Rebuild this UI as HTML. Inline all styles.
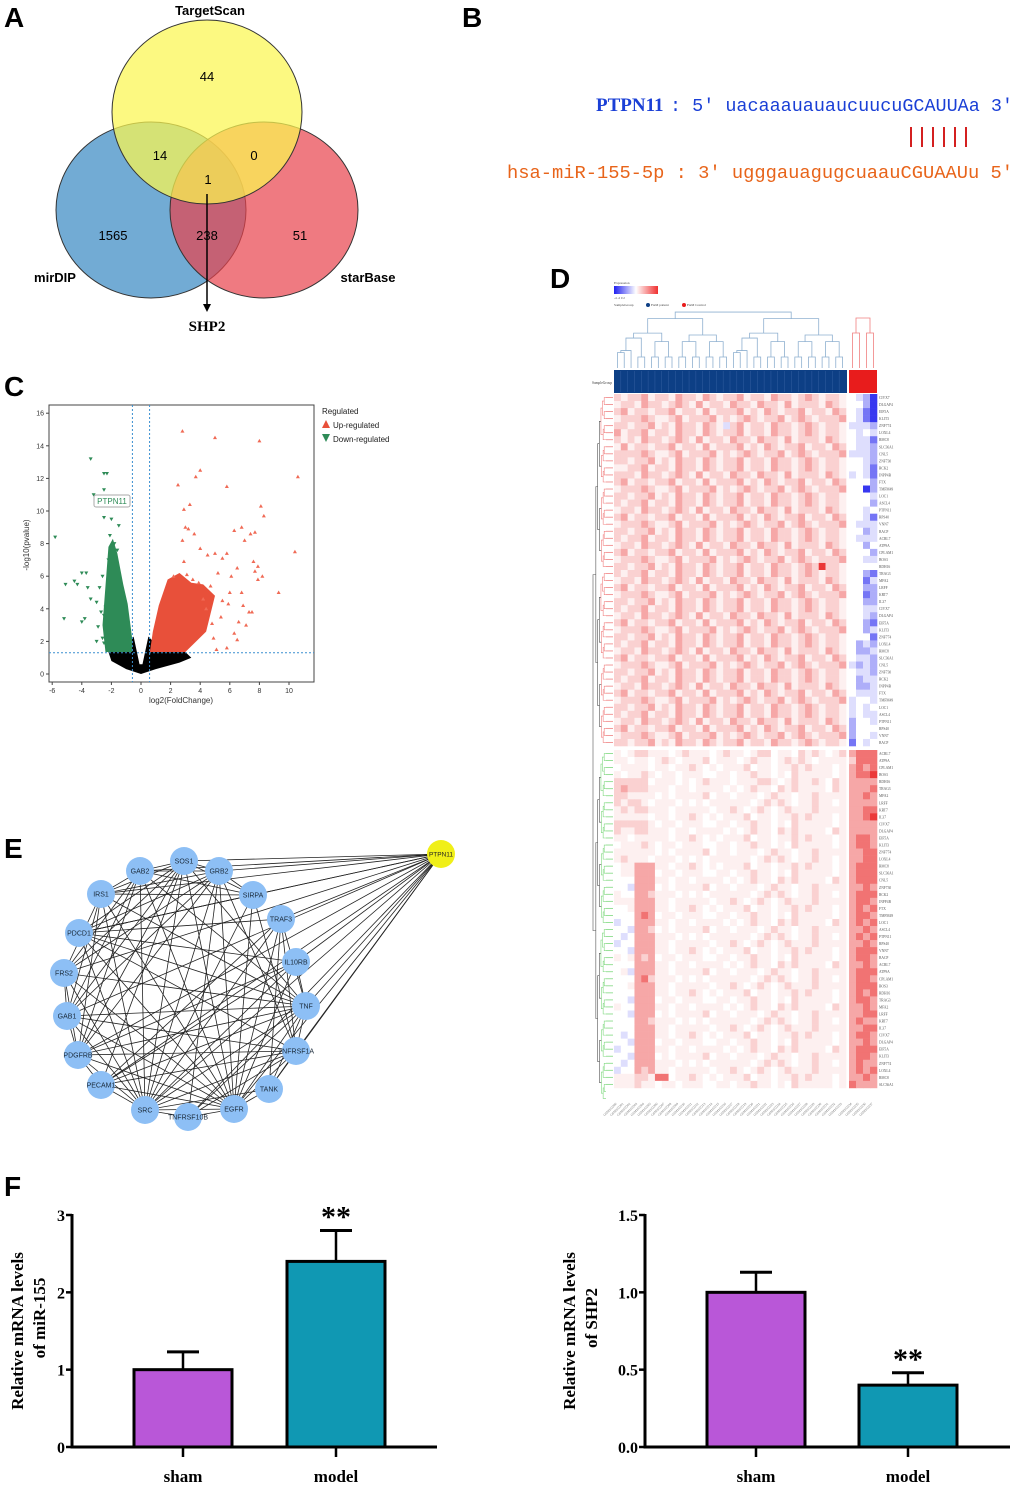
<!DOCTYPE html>
<html><head><meta charset="utf-8">
<style>
html,body{margin:0;padding:0;background:#fff}
svg{display:block}
.pl{font-family:"Liberation Sans",sans-serif;font-weight:bold;font-size:28px;fill:#000}
</style></head>
<body>
<svg id="fig" width="1020" height="1489" viewBox="0 0 1020 1489" xmlns="http://www.w3.org/2000/svg">
<text class="pl" x="4" y="27">A</text>
<text class="pl" x="462" y="27">B</text>
<text class="pl" x="4" y="396">C</text>
<text class="pl" x="550" y="288">D</text>
<text class="pl" x="4" y="858">E</text>
<text class="pl" x="4" y="1196">F</text>

<g font-family="Liberation Sans, sans-serif" font-size="13">
  <ellipse cx="151" cy="210" rx="95" ry="88" fill="#3c8ac4" fill-opacity="0.72" stroke="#333"/>
  <ellipse cx="264" cy="210" rx="94" ry="88" fill="#e8424c" fill-opacity="0.7" stroke="#333"/>
  <ellipse cx="207" cy="112" rx="95" ry="92" fill="#fbf650" fill-opacity="0.72" stroke="#333"/>
  <text x="210" y="15" text-anchor="middle" font-weight="bold">TargetScan</text>
  <text x="55" y="282" text-anchor="middle" font-weight="bold">mirDIP</text>
  <text x="368" y="282" text-anchor="middle" font-weight="bold">starBase</text>
  <text x="207" y="81" text-anchor="middle">44</text>
  <text x="160" y="160" text-anchor="middle">14</text>
  <text x="254" y="160" text-anchor="middle">0</text>
  <text x="208" y="184" text-anchor="middle">1</text>
  <text x="113" y="240" text-anchor="middle">1565</text>
  <text x="207" y="240" text-anchor="middle">238</text>
  <text x="300" y="240" text-anchor="middle">51</text>
  <line x1="207" y1="194" x2="207" y2="306" stroke="#000" stroke-width="1.5"/>
  <polygon points="203,304 211,304 207,312" fill="#000"/>
  <text x="207" y="331" text-anchor="middle" font-family="Liberation Serif, serif" font-weight="bold" font-size="15">SHP2</text>
</g>

<g>
  <text x="596" y="111" font-family="Liberation Serif, serif" font-weight="bold" font-size="19" fill="#1a3fd6">PTPN11</text>
  <text x="670" y="111" font-family="Liberation Mono, monospace" font-size="18.3" fill="#1a3fd6" xml:space="preserve" textLength="343" lengthAdjust="spacingAndGlyphs">: 5' uacaaauauaucuucuGCAUUAa 3'</text>
  <g stroke="#d42020" stroke-width="2">
    <line x1="911" y1="127" x2="911" y2="147"/><line x1="922" y1="127" x2="922" y2="147"/><line x1="933" y1="127" x2="933" y2="147"/>
    <line x1="944" y1="127" x2="944" y2="147"/><line x1="955" y1="127" x2="955" y2="147"/><line x1="966" y1="127" x2="966" y2="147"/>
  </g>
  <text x="507" y="178" font-family="Liberation Mono, monospace" font-size="18.3" fill="#e8641a" xml:space="preserve" textLength="506" lengthAdjust="spacingAndGlyphs">hsa-miR-155-5p : 3' ugggauagugcuaauCGUAAUu 5'</text>
</g>

<g id="volcano" font-family="Liberation Sans, sans-serif"></g>
<g id="heatmap" font-family="Liberation Serif, serif"></g>
<g id="network" font-family="Liberation Sans, sans-serif"></g>
<g id="bars" font-family="Liberation Serif, serif"></g>
</svg>

<script>
const NS="http://www.w3.org/2000/svg";
function mk(parent,tag,attrs,txt){const e=document.createElementNS(NS,tag);for(const k in attrs)e.setAttribute(k,attrs[k]);if(txt!==undefined)e.textContent=txt;parent.appendChild(e);return e;}

const volXTicks=[-6,-4,-2,0,2,4,6,8,10];
const volYTicks=[0,2,4,6,8,10,12,14,16];
const upX=[2.8,5,8,4,3.7,10.6,2.5,5.8,3.3,2.9,8.1,8.3,3,3.2,3.6,6.8,6.3,7.7,7.4,2.8,7,4,10.4,5,5.8,4.5,2.9,5.5,7.6,7.9,6.5,7.7,8.2,7.9,9.3,6,6.8,5.5,7.5,7.3,6.6,5.4,6.3,5.1,5.8,6.5,4.9,4.4,3.5,4.2,5.2,6.1,4.7,3.9,6.9,7.1,5.9,4.8,3.1,2.2];
const upY=[14.9,14.5,14.3,12.5,12.1,12.1,11.6,11.5,10.4,10.1,10.3,9.7,9,8.9,8.6,9,8.8,8.7,8.6,8.2,8.2,7.7,7.5,7.4,7.4,7.3,6.9,7.1,6.9,6.6,6.5,6.3,6,5.8,5,5,5,4.5,3.8,3.8,3.2,3.5,2.5,1.5,1.6,2.1,2.2,4,5.8,4.6,6.2,6.0,5.4,5.6,4.2,3.0,4.3,3.1,6.1,6.0];
const downX=[-3.4,-2.5,-2.3,-2.5,-3.2,-5.8,-2.5,-2,-1.5,-2.1,-4,-3.7,-4.5,-5.1,-4.3,-3.6,-2.6,-2.8,-3.4,-3,-5.2,-3.8,-4,-2.5,-2.9,-2.2,-2.6,-3,-2.5,-1.8,-1.6,-2.2,-1.9,-2.4,-2.7];
const downY=[13.2,12.3,12.3,11.3,11,8.4,9.6,9.5,9.1,8.5,6.2,6.2,5.7,5.5,5.5,5.3,6,5.3,4.6,4.4,3.4,3.4,3.2,3.6,2.9,2.5,2.2,2,1.9,8.0,7.6,7.0,6.8,4.1,3.8];
const downHullX=[-2.2,-1.9,-1.6,-1.2,-0.9,-0.6,-0.6,-2.4,-2.6];
const downHullY=[7.8,8.3,7.4,5.5,4.3,2.2,1.35,1.35,3.0];
const upHullX=[0.6,0.8,1.2,1.8,2.6,3.4,4.2,5.0,4.4,3.0,0.6];
const upHullY=[1.35,2.6,4.2,5.8,6.2,5.6,5.5,4.8,2.6,1.35,1.35];
const nsHullX=[-2.2,-1.2,-0.5,-0.1,0.1,0.5,1.5,3.0,3.4,2.6,1.0,0,-1.0,-2.0];
const nsHullY=[1.35,1.35,2.3,0.6,0.6,2.3,1.35,1.35,1.0,0.7,0.3,0,0.3,0.8];

(function(){
const g=document.getElementById('volcano');
const X0=49,X1=314,Y0=405,Y1=682;
const sx=v=>141+v*14.8, sy=v=>674-v*16.3;
mk(g,'rect',{x:X0,y:Y0,width:X1-X0,height:Y1-Y0,fill:'#fff',stroke:'#444','stroke-width':1,});
const poly=(xs,ys,fill,name)=>{const p=mk(g,'polygon',{points:xs.map((x,i)=>sx(x)+','+sy(ys[i])).join(' '),fill:fill});

};
poly(nsHullX,nsHullY,'#000','non-significant-cloud');
poly(downHullX,downHullY,'#2e8b57','down-regulated-cloud');
poly(upHullX,upHullY,'#e8503a','up-regulated-cloud');
upX.forEach((x,i)=>{const cx=sx(x),cy=sy(upY[i]);const p=mk(g,'polygon',{points:`${cx-2},${cy+1.5} ${cx+2},${cy+1.5} ${cx},${cy-2}`,fill:'#f06a55'});

});
downX.forEach((x,i)=>{const cx=sx(x),cy=sy(downY[i]);const p=mk(g,'polygon',{points:`${cx-2},${cy-1.5} ${cx+2},${cy-1.5} ${cx},${cy+2}`,fill:'#2e8b57'});

});
[[sx(-0.58),Y0,sx(-0.58),Y1],[sx(0.58),Y0,sx(0.58),Y1],[X0,sy(1.3),X1,sy(1.3)]].forEach(l=>{const e=mk(g,'line',{x1:l[0],y1:l[1],x2:l[2],y2:l[3],stroke:'#3a8fd0','stroke-width':1,'stroke-dasharray':'2,2'});

});
volXTicks.forEach(t=>{mk(g,'line',{x1:sx(t),y1:Y1,x2:sx(t),y2:Y1+3,stroke:'#444'});const e=mk(g,'text',{x:sx(t),y:Y1+11,'font-size':7,'text-anchor':'middle',fill:'#333'},String(t));

});
volYTicks.forEach(t=>{mk(g,'line',{x1:X0-3,y1:sy(t),x2:X0,y2:sy(t),stroke:'#444'});const e=mk(g,'text',{x:X0-5,y:sy(t)+2.5,'font-size':7,'text-anchor':'end',fill:'#333'},String(t));

});
const xt=mk(g,'text',{x:181,y:703,'font-size':8,'text-anchor':'middle',fill:'#333'},'log2(FoldChange)');


const yt=mk(g,'text',{x:0,y:0,'font-size':8,'text-anchor':'middle',fill:'#333',transform:'translate(29,545) rotate(-90)'},'-log10(pvalue)');


const lb=mk(g,'rect',{x:94,y:495,width:36,height:12,fill:'#fff',stroke:'#aaa',rx:2});


const lt=mk(g,'text',{x:112,y:504,'font-size':8,'text-anchor':'middle',fill:'#2e8b57'},'PTPN11');


const lg=mk(g,'g',{});


mk(lg,'text',{x:322,y:414,'font-size':8,fill:'#222'},'Regulated');
mk(lg,'polygon',{points:'322,428 330,428 326,420',fill:'#e8503a'});
mk(lg,'text',{x:333,y:428,'font-size':8,fill:'#222'},'Up-regulated');
mk(lg,'polygon',{points:'322,434 330,434 326,442',fill:'#2e8b57'});
mk(lg,'text',{x:333,y:442,'font-size':8,fill:'#222'},'Down-regulated');
})();

const heatRows=[
"6566756657665765667566576656765665|4320","5665766567657566576657665756665765|4420","6756656675665756667565765667566576|4310","5666765567566675656765667567656667|4310",
"6656675657665765367566576656765665|3332","7566756657665765667566576656765665|4343","6565766567657566576657665756665765|4331","5756656675665756667565765667566576|4332",
"6666765567566675656765667567656667|3332","6656675657665765667566576656765665|4432","5566756657665765667566576656765665|4431","6665766567657566576657665756665765|3431",
"6756656675665756667565765667566576|4442","5666765567566675656765667567656667|4402","6656675657665765667566576656765665|4443","6566756657665765667566576656765665|4442",
"5665766567657566576657665756665765|4434","6756656675665756667565765667566576|4431","5666765567566675656765667567656667|4333","6656675657665765667566576656765665|4423",
"6566756657665765667566576656765665|4333","5665766567657566576657665756665765|4424","6756656675665756667565765667566576|4442","5666765567566675656765667567656667|4433",
"6656675657665765667566576656769665|4444","6566756657665765667566576656765665|4421","5665766567657566576657665756665765|4413","6756656675665756667565765667566576|4422",
"5666765567566675656765667567656667|4412","6656675657665765667566576656765665|4422","6566756657665765667566576656765665|4433","5665766567657566576657665756665765|4432",
"6756656675665756667565765667566576|4421","5666765567566675656765667567656667|4423","6656675657665765667566576656765665|4441","6566756657665765667566576656765665|4232",
"5665766567657566576657665756665765|4223","6756656675665756667565765667566576|4332","5666765567566675656765667567656667|3232","6656675657665765667566576656765665|4332",
"6566756657665765667566576656765665|4233","5665766567657566576657665756665765|4223","6756656675665756667565765667566576|4333","5666765567566675656765667567656667|3443",
"6656675657665765667566576656765665|3434","6566756657665765667566576656765665|3433","5665766567657566576657665756665765|2443","6756656675665756667565765667566576|2444",
"5666765567566675656765667567656667|2443","6656675657665765667566576656765665|1434",
"5456655545655545655456645546565456|7888","5545545654555645554565545656545555|6888","4555545545565454555645545565655545|7878","5455654554555445545565545465555545|7889",
"6666645554545655545556654565565465|7777","6766655545545555454565546565555465|7778","6655554545555645545554565545565555|7787","6566545554545455555545656545565545|7777",
"5656655545555545565456545655565555|7788","5555545545565454555645545565655545|7789","6666654554555445545565545465555545|7777","6556655545545555454565546565555465|7777",
"5545555545565454555645545565655545|7887","4555654554555445545565545465555545|7887","5555554545555645545554565545565555|7788","5655545554545455555545656545565545|7788",
"4557775545565454555645545565655545|7888","4557774554555445545565545465555545|7888","4447775545545555454565546565555465|7888","4437774545555645545554565545565555|7787",
"5447765554545455555545656545565545|7888","5557775545555545565456545655565555|7887","4457775545565454555645545565655545|7878","4447874554555445545565545465555545|7887",
"3447775545545555454565546565555465|7878","4437764545555645545554565545565555|7787","4347775554545455555545656545565545|7878","3447775545555545565456545655565555|7787",
"4437775545565454555645545565655545|7888","5457674554555445545565545465555545|7887","4447775545545555454565546565555465|7787","4537775545555645545554565545565555|7888",
"4447865554545455555545656545565545|7887","4457775545555545565456545655565555|7888","4447775545565454555645545565655545|7878","4437774554555445545565545465555545|7887",
"5447775545545555454565546565555465|7787","4437774545555645545554565545565555|7788","4447765554545455555545656545565545|7877","4447775545555545565456545655565555|7788",
"4347775545565454555645545565655545|7887","4437774554555445545565545465555545|7787","3447775545545555454565546565555465|7888","4437774545555645545554565545565555|7887",
"4347775554545455555545656545565545|7877","3447675545555545565456545655565555|7878","5556658845565454555645545565655545|7787","5556554554555445545565545465555545|8777"];
const geneNames=["CIVX7","DLGAP4","EIF5A","KLIT3","ZNF774","LOXL4","RMC8","SLC36A1","CNL5","ZNF730","RCK2","INPP4B","FTX","TMFM49","LOC1","ASCL4","PTPN11","RPS40","VNN7","BACP","ACRL7","ATP9A","CPLAM1","BOS3","RDH16","TRAG3","MFA2","LRFF","KRT7","IL37"];

(function(){
const g=document.getElementById('heatmap');
const PX0=614,PW=232/34,CX0=849,CW=7;
const topY0=394,botY0=750,RH=7.04;
function col(v){let r,gg,b;
 if(v<=4){const f=Math.pow((4-v)/4,1.3);r=Math.round(255-200*f);gg=Math.round(255-200*f);b=Math.round(255-15*f);}
 else{const f=Math.pow((v-4)/5,1.6);r=Math.round(255-20*f);gg=Math.round(255-200*f);b=Math.round(255-200*f);}
 return `rgb(${r},${gg},${b})`;}
heatRows.forEach((row,ri)=>{const [p,c]=row.split('|');const y=(ri<50?topY0+ri*RH:botY0+(ri-50)*RH);
 for(let j=0;j<p.length;j++){const e=mk(g,'rect',{x:(PX0+j*PW).toFixed(2),y:y.toFixed(2),width:(PW+0.3).toFixed(2),height:(RH+0.3).toFixed(2),fill:col(+p[j])});
 
 }
 for(let j=0;j<c.length;j++){const e=mk(g,'rect',{x:CX0+j*CW,y:y.toFixed(2),width:CW+0.3,height:(RH+0.3).toFixed(2),fill:col(+c[j])});
 
 }
 const gl=mk(g,'text',{x:879,y:(y+5).toFixed(1),'font-size':3.6,fill:'#555'},geneNames[ri%geneNames.length]);
 
 
 const lf=mk(g,'line',{x1:606,y1:y+3.5,x2:613,y2:y+3.5,stroke:ri<50?'#f08080':'#7fd87f','stroke-width':0.8});
 
 
});
const sg=mk(g,'rect',{x:614,y:370,width:233,height:23,fill:'#0d3f85'});


for(let j=1;j<34;j++)mk(g,'line',{x1:PX0+j*PW,y1:371,x2:PX0+j*PW,y2:392,stroke:'#3c67a8','stroke-width':0.4});
const sc=mk(g,'rect',{x:849,y:370,width:28,height:23,fill:'#e81c1c'});


const sgl=mk(g,'text',{x:612,y:384,'font-size':3.6,'text-anchor':'end',fill:'#444'},'SampleGroup');


function tree(x0,n,w,yb,ht,color,depth){
 if(n<=1){return [x0+w/2,yb];}
 const n1=Math.ceil(n/2);const a=tree(x0,n1,w,yb,ht,color,depth+1);const b=tree(x0+n1*w,n-n1,w,yb,ht,color,depth+1);
 const y=yb-ht*(Math.log2(n)+ (depth%2?0.4:0));
 mk(g,'path',{d:`M${a[0]},${a[1]}V${y}H${b[0]}V${b[1]}`,fill:'none',stroke:color,'stroke-width':0.8});
 return [(a[0]+b[0])/2,y];}
tree(PX0,34,PW,368,11,'#8fb0d0',0);
tree(CX0,4,CW,368,25,'#f08080',0);
function ltree(y0,n,h,xb,wd,color,depth){
 if(n<=1)return [xb,y0+h/2];
 const n1=Math.ceil(n/2);const a=ltree(y0,n1,h,xb,wd,color,depth+1);const b=ltree(y0+n1*h,n-n1,h,xb,wd,color,depth+1);
 const x=xb-wd*Math.log2(n);
 mk(g,'path',{d:`M${a[0]},${a[1]}H${x}V${b[1]}H${b[0]}`,fill:'none',stroke:depth<3?'#555':color,'stroke-width':0.6});
 return [x,(a[1]+b[1])/2];}
const a1=ltree(topY0,50,RH,606,1.8,'#f08080',0);const a2=ltree(botY0,50,RH,606,1.8,'#7fd87f',0);
mk(g,'path',{d:`M${a1[0]},${a1[1]}H593V${a2[1]}H${a2[0]}`,fill:'none',stroke:'#555','stroke-width':0.6});
const lgd=mk(g,'g',{});


const grad=mk(g,'defs',{});const lgr=mk(grad,'linearGradient',{id:'hg'});
mk(lgr,'stop',{offset:'0','stop-color':'#2020f0'});mk(lgr,'stop',{offset:'0.5','stop-color':'#fff'});mk(lgr,'stop',{offset:'1','stop-color':'#f03030'});
mk(lgd,'text',{x:614,y:284,'font-size':3.5,fill:'#444'},'Expression');
mk(lgd,'rect',{x:614,y:286,width:44,height:8,fill:'url(#hg)'});
mk(lgd,'text',{x:614,y:299,'font-size':3.2,fill:'#444'},'-4   -2   0   2');
mk(lgd,'text',{x:614,y:306,'font-size':3.5,fill:'#444'},'SampleGroup');
mk(lgd,'circle',{cx:648,cy:305,r:2,fill:'#0d3f85'});
mk(lgd,'text',{x:651,y:306,'font-size':3.5,fill:'#444'},'FAM patient');
mk(lgd,'circle',{cx:684,cy:305,r:2,fill:'#e81c1c'});
mk(lgd,'text',{x:687,y:306,'font-size':3.5,fill:'#444'},'FAM Control');
for(let j=0;j<38;j++){const x=j<34?PX0+j*PW+3:CX0+(j-34)*CW+3;
 const t=mk(g,'text',{x:0,y:0,'font-size':3.4,fill:'#777','text-anchor':'end',transform:`translate(${x},1104) rotate(-45)`},'GSM10'+(2200+j));
 
 }
})();

const nodeNames=["SOS1","GAB2","GRB2","IRS1","SIRPA","TRAF3","PDCD1","IL10RB","FRS2","TNF","GAB1","TNFRSF1A","PDGFRB","TANK","PECAM1","EGFR","SRC","TNFRSF10B"];
const nodeX=[184,140,219,101,253,281,79,296,64,306,67,296,78,269,101,234,145,188];
const nodeY=[861,871,871,894,895,919,933,962,973,1006,1016,1051,1055,1089,1085,1109,1110,1117];
const edgeA=[0,0,0,0,0,0,0,0,0,0,0,0,1,1,1,1,1,1,1,1,1,2,2,2,2,2,2,2,2,2,2,3,3,3,3,3,3,3,4,4,4,4,5,5,5,5,5,5,6,6,6,6,6,6,7,7,7,7,7,8,8,8,8,8,9,9,9,9,9,9,9,9,10,10,10,10,11,11,11,11,11,11,12,12,12,13,13,14,14,15,15,16,6];
const edgeB=[1,2,3,4,6,8,10,12,15,16,14,9,2,3,4,8,10,12,16,15,9,3,4,6,8,10,12,15,16,17,11,4,8,10,12,16,15,9,6,16,15,11,9,11,16,15,13,14,9,11,16,15,7,5,9,14,16,15,12,10,12,16,15,9,10,11,12,14,16,15,17,13,12,16,15,11,12,14,16,15,13,17,14,16,15,15,16,16,15,16,17,17,4];
(function(){
const g=document.getElementById('network');
const px=441,py=854;
nodeNames.forEach((n,i)=>{const e=mk(g,'line',{x1:px,y1:py,x2:nodeX[i],y2:nodeY[i],stroke:'#222','stroke-width':0.8});

});
edgeA.forEach((a,i)=>{const b=edgeB[i];const e=mk(g,'line',{x1:nodeX[a],y1:nodeY[a],x2:nodeX[b],y2:nodeY[b],stroke:'#222','stroke-width':0.8});

});
nodeNames.forEach((n,i)=>{const c=mk(g,'circle',{cx:nodeX[i],cy:nodeY[i],r:14,fill:'#8dbff5'});


const t=mk(g,'text',{x:nodeX[i],y:nodeY[i]+2.5,'font-size':7,'text-anchor':'middle',fill:'#1a2a3a'},n);

});
const c=mk(g,'circle',{cx:px,cy:py,r:14,fill:'#f0ef18'});


const t=mk(g,'text',{x:px,y:py+2.5,'font-size':6.5,'text-anchor':'middle',fill:'#222'},'PTPN11');


})();

const barCats=["sham","model"];
const mirVals=[1.0,2.4];
const mirErr=[0.23,0.4];
const mirTicks=[0,1,2,3];
const shpVals=[1.0,0.4];
const shpErr=[0.13,0.08];
const shpTicks=["0.0","0.5","1.0","1.5"];
const barColors=["#b957d8","#1098b3"];
(function(){
const g=document.getElementById('bars');
function chart(name,ax,axEnd,max,ticks,vals,errs,barX,title1,title2,tx,sigIdx){
 const cg=mk(g,'g',{});
 
 
 const y0=1447,y1=1215;const sy=v=>y0-(v/max)*(y0-y1);
 const bw=98;
 vals.forEach((v,i)=>{const cx=barX[i];
  const el=mk(cg,'line',{x1:cx,y1:sy(v),x2:cx,y2:sy(v+errs[i]),stroke:'#000','stroke-width':2.5});
  
  
  const cap=mk(cg,'line',{x1:cx-16,y1:sy(v+errs[i]),x2:cx+16,y2:sy(v+errs[i]),stroke:'#000','stroke-width':3});
  
  
  const r=mk(cg,'rect',{x:cx-bw/2,y:sy(v),width:bw,height:y0-sy(v),fill:barColors[i],stroke:'#000','stroke-width':3});
  
  
  mk(cg,'line',{x1:cx,y1:y0,x2:cx,y2:y0+10,stroke:'#000','stroke-width':2.5});
  const lt=mk(cg,'text',{x:cx,y:1482,'font-size':17,'font-weight':'bold','text-anchor':'middle'},barCats[i]);
  
  });
 const st=mk(cg,'text',{x:barX[sigIdx],y:sy(vals[sigIdx]+errs[sigIdx])-4,'font-size':30,'font-weight':'bold','text-anchor':'middle'},'**');
 
 
 mk(cg,'line',{x1:ax,y1:y1-1,x2:ax,y2:y0+1.5,stroke:'#000','stroke-width':3});
 mk(cg,'line',{x1:ax-1.5,y1:y0,x2:axEnd,y2:y0,stroke:'#000','stroke-width':3});
 ticks.forEach((t,i)=>{const y=sy(+t);mk(cg,'line',{x1:ax-6,y1:y,x2:ax,y2:y,stroke:'#000','stroke-width':2.5});
  const e=mk(cg,'text',{x:ax-7,y:y+6,'font-size':16,'font-weight':'bold','text-anchor':'end'},String(t));
  
  });
 const yt=mk(cg,'text',{x:0,y:0,'font-size':17,'font-weight':'bold','text-anchor':'middle',transform:`translate(${tx},1331) rotate(-90)`},title1);
 
 
 const yt2=mk(cg,'text',{x:0,y:0,'font-size':17,'font-weight':'bold','text-anchor':'middle',transform:`translate(${tx+22},1318) rotate(-90)`},title2);
 
 
}
chart('mir155-chart',72,437,3,mirTicks,mirVals,mirErr,[183,336],'Relative mRNA levels','of miR-155',23,1);
chart('shp2-chart',645,1010,1.5,shpTicks,shpVals,shpErr,[756,908],'Relative mRNA levels','of SHP2',575,1);
})();
</script>
</body></html>
